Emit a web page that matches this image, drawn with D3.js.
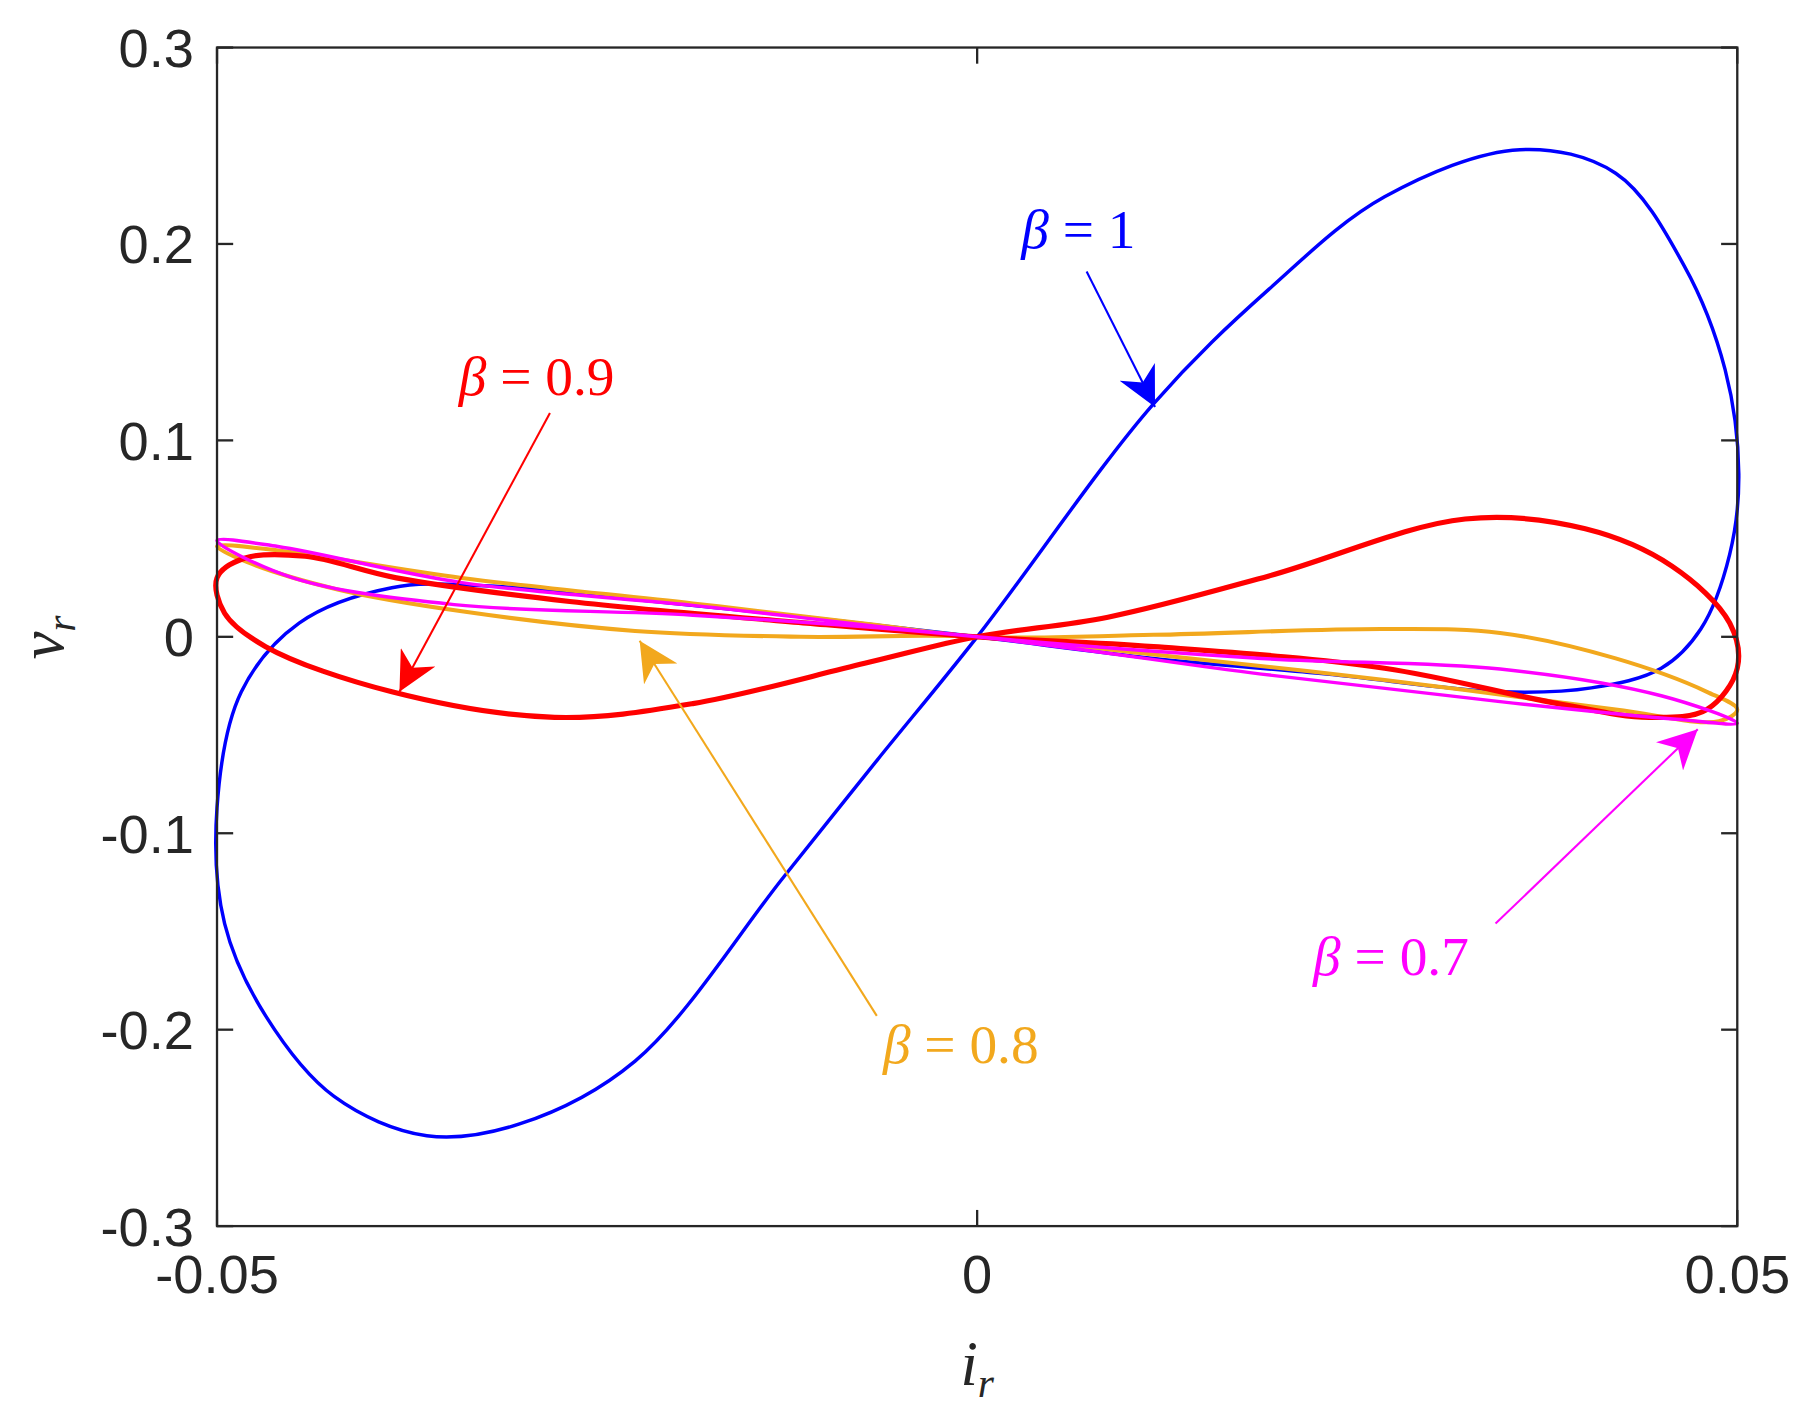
<!DOCTYPE html>
<html><head><meta charset="utf-8">
<script src="https://cdn.jsdelivr.net/npm/d3@7"></script>
<style>body{margin:0;background:#fff}</style></head>
<body><script>
// tick values
const xTicks = [-0.05, 0, 0.05];
const yTicks = [-0.3, -0.2, -0.1, 0, 0.1, 0.2, 0.3];

// loops [i_r, v_r]
const beta1 = [[0,0],[0.0116,0.1186],[0.0192,0.177],[0.0268,0.224],[0.0357,0.248],[0.042,0.236],[0.0465,0.189],[0.0492,0.136],[0.0501,0.083],[0.0495,0.042],[0.0476,0.004],[0.045,-0.016],[0.0404,-0.026],[0.0344,-0.028],[0.023,-0.019],[0.0116,-0.011],
  [0,0],[-0.0112,0.010],[-0.0225,0.019],[-0.0324,0.026],[-0.0385,0.025],[-0.0446,0.007],[-0.0484,-0.028],[-0.05,-0.087],[-0.0495,-0.146],[-0.0468,-0.193],[-0.0423,-0.234],[-0.0362,-0.254],[-0.0301,-0.248],[-0.0225,-0.216],[-0.0127,-0.122],[-0.0066,-0.063]];
const beta09 = [[0,0],[0.0086,0.010],[0.0192,0.031],[0.0321,0.060],[0.040,0.055],[0.0457,0.036],[0.0495,0.007],[0.050,-0.016],[0.048,-0.037],[0.0442,-0.041],[0.0382,-0.034],[0.0268,-0.016],[0.0116,-0.005],
  [0,0],[-0.0112,0.007],[-0.0268,0.018],[-0.0382,0.030],[-0.0442,0.041],[-0.0482,0.040],[-0.050,0.030],[-0.0495,0.012],[-0.0468,-0.005],[-0.0385,-0.028],[-0.0278,-0.041],[-0.0187,-0.034],[-0.0074,-0.0135]];
const beta08 = [[0,0],[0.0116,0.001],[0.0268,0.004],[0.0344,0.002],[0.042,-0.011],[0.048,-0.028],[0.050,-0.037],[0.0488,-0.043],[0.042,-0.037],[0.0268,-0.022],[0.0116,-0.009],
  [0,0],[-0.0116,0.0],[-0.0225,0.003],[-0.0339,0.013],[-0.042,0.024],[-0.048,0.038],[-0.050,0.046],[-0.046,0.044],[-0.0339,0.030],[-0.0187,0.017],[-0.0066,0.006]];
const beta07 = [[0,0],[0.0187,-0.011],[0.0344,-0.0164],[0.045,-0.030],[0.050,-0.044],[0.046,-0.042],[0.0344,-0.033],[0.0187,-0.019],
  [0,0],[-0.0187,0.011],[-0.0344,0.0164],[-0.045,0.030],[-0.050,0.049],[-0.046,0.046],[-0.0339,0.0276],[-0.0187,0.016]];

const series = [
  {name:"1", pts:beta1, color:"#0000ff", w:3, label:[0.0029,0.198], tail:[0.0072,0.186], head:[0.0117,0.117]},
  {name:"0.9", pts:beta09, color:"#ff0000", w:4.5, label:[-0.0341,0.123], tail:[-0.0281,0.114], head:[-0.0380,-0.028]},
  {name:"0.8", pts:beta08, color:"#f2a81d", w:3.5, label:[-0.0062,-0.217], tail:[-0.0066,-0.193], head:[-0.0222,-0.002]},
  {name:"0.7", pts:beta07, color:"#ff00ff", w:3, label:[0.0221,-0.172], tail:[0.0341,-0.146], head:[0.0474,-0.047]}
];

const W = 1568, H = 1222;
const m = {l:188, r:1505, t:41, b:1062};
const x = d3.scaleLinear().domain([-0.05,0.05]).range([m.l,m.r]);
const y = d3.scaleLinear().domain([-0.3,0.3]).range([m.b,m.t]);

const svg = d3.select("body").append("svg")
  .attr("width",1810).attr("height",1411)
  .attr("viewBox",[0,0,W,H]);

const defs = svg.append("defs");
series.forEach((s,i)=>{
  defs.append("marker").attr("id","ah"+i)
    .attr("viewBox","0 0 10 10").attr("refX",10).attr("refY",5)
    .attr("markerWidth",34).attr("markerHeight",34).attr("markerUnits","userSpaceOnUse")
    .attr("orient","auto")
    .append("path").attr("d","M0,0 L10,5 L0,10 L3,5 Z").attr("fill",s.color);
});

const line = d3.line().x(d=>x(d[0])).y(d=>y(d[1])).curve(d3.curveCatmullRomClosed.alpha(0.5));

const g = svg.append("g");
// order: blue, orange, red, magenta
[0,2,1,3].forEach(i=>{
  const s = series[i];
  g.append("path").attr("d",line(s.pts)).attr("fill","none")
    .attr("stroke",s.color).attr("stroke-width",s.w);
});

// axes box and ticks
const ax = svg.append("g").attr("stroke","#262626").attr("stroke-width",2);
ax.append("rect").attr("x",m.l).attr("y",m.t).attr("width",m.r-m.l).attr("height",m.b-m.t).attr("fill","none");
const tl = 14;
yTicks.forEach(v=>{
  ax.append("line").attr("x1",m.l).attr("x2",m.l+tl).attr("y1",y(v)).attr("y2",y(v));
  ax.append("line").attr("x1",m.r).attr("x2",m.r-tl).attr("y1",y(v)).attr("y2",y(v));
});
xTicks.forEach(v=>{
  ax.append("line").attr("x1",x(v)).attr("x2",x(v)).attr("y1",m.b).attr("y2",m.b-tl);
  ax.append("line").attr("x1",x(v)).attr("x2",x(v)).attr("y1",m.t).attr("y2",m.t+tl);
});
const tf = "'Liberation Sans', Arial, sans-serif";
const fmt = (f,v) => v===0 ? "0" : d3.format(f)(v).replace("−","-");
yTicks.forEach(v=>{
  svg.append("text").attr("x",m.l-20).attr("y",y(v)).attr("dy","0.36em")
    .attr("text-anchor","end").attr("font-family",tf).attr("font-size",47).attr("fill","#262626")
    .text(fmt(".1f",v));
});
xTicks.forEach(v=>{
  svg.append("text").attr("x",x(v)).attr("y",m.b+58)
    .attr("text-anchor","middle").attr("font-family",tf).attr("font-size",47).attr("fill","#262626")
    .text(fmt(".2f",v));
});

const sf = "'Liberation Serif', 'DejaVu Serif', serif";
// axis labels
const xl = svg.append("text").attr("x",(m.l+m.r)/2).attr("y",1200).attr("text-anchor","middle")
  .attr("font-family",sf).attr("font-size",54).attr("fill","#262626");
xl.append("tspan").attr("font-style","italic").text("i");
xl.append("tspan").attr("font-style","italic").attr("font-size",36).attr("dy",10).text("r");
const yl = svg.append("text").attr("transform","translate(55,552) rotate(-90)").attr("text-anchor","middle")
  .attr("font-family",sf).attr("font-size",54).attr("fill","#262626");
yl.append("tspan").attr("font-style","italic").text("v");
yl.append("tspan").attr("font-style","italic").attr("font-size",36).attr("dy",10).text("r");

// annotations
series.forEach((s,i)=>{
  svg.append("line").attr("x1",x(s.tail[0])).attr("y1",y(s.tail[1]))
    .attr("x2",x(s.head[0])).attr("y2",y(s.head[1]))
    .attr("stroke",s.color).attr("stroke-width",1.8).attr("marker-end",`url(#ah${i})`);
  const t = svg.append("text").attr("x",x(s.label[0])).attr("y",y(s.label[1]))
    .attr("font-family",sf).attr("font-size",48).attr("fill",s.color);
  t.append("tspan").attr("font-style","italic").text("β");
  t.append("tspan").text(" = "+s.name);
});
</script></body></html>
